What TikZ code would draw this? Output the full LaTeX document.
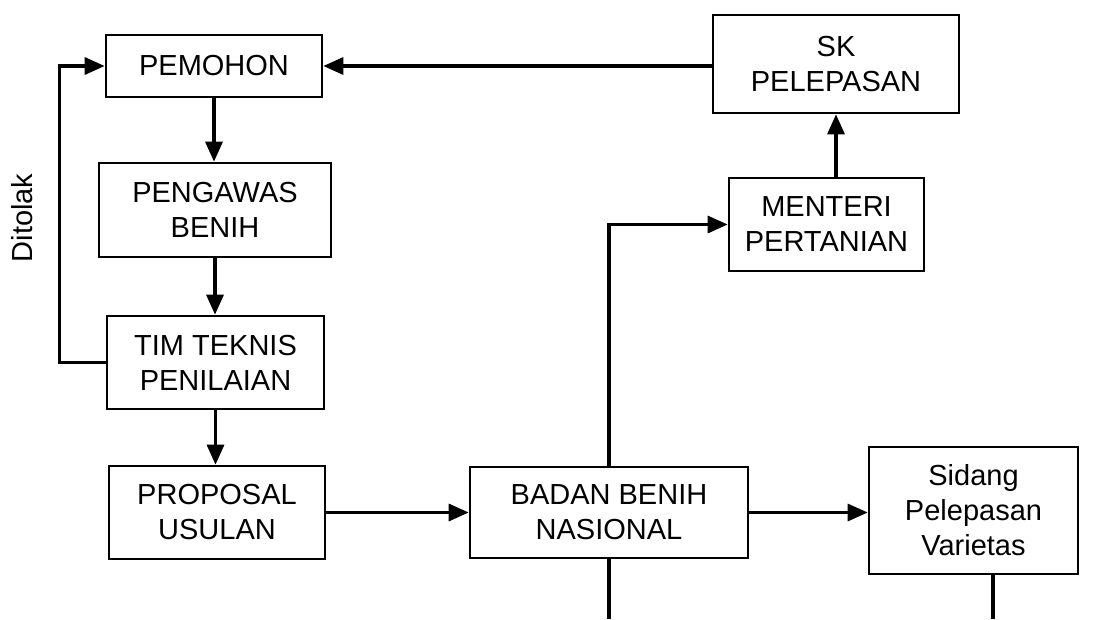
\documentclass[tikz,border=0pt]{standalone}
\usepackage{fontspec}
\setmainfont{Liberation Sans}
\usetikzlibrary{arrows.meta}

\begin{document}
\begin{tikzpicture}[x=1pt, y=-1pt, every node/.style={font=\fontsize{29}{35}\selectfont},
	box/.style={draw, line width=2.6pt, align=center, inner sep=0pt},
	flow/.style={line width=3.2pt, -{Triangle[length=20pt,width=17pt]}}]
	\useasboundingbox (0,0) rectangle (1116,619);
	\node[box, minimum width=216pt, minimum height=62pt] (pemohon) at (214,66) {PEMOHON};
	\node[box, minimum width=232pt, minimum height=94pt] (pengawas) at (215,210) {PENGAWAS\\BENIH};
	\node[box, minimum width=217pt, minimum height=93pt] (timteknis) at (215.5,362.5) {TIM TEKNIS\\PENILAIAN};
	\node[box, minimum width=216pt, minimum height=93pt] (proposal) at (217,512.5) {PROPOSAL\\USULAN};
	\node[box, minimum width=278pt, minimum height=91pt] (badan) at (609,512.5) {BADAN BENIH\\NASIONAL};
	\node[box, minimum width=209pt, minimum height=127pt] (sidang) at (973.5,510.5) {Sidang\\Pelepasan\\Varietas};
	\node[box, minimum width=195pt, minimum height=93pt] (menteri) at (826.5,224.5) {MENTERI\\PERTANIAN};
	\node[box, minimum width=246pt, minimum height=98pt] (sk) at (836,64) {SK\\PELEPASAN};
	\node[rotate=90] (ditolak) at (22,218) {Ditolak};
	\coordinate (badanend) at (609,619);
	\coordinate (sidangend) at (993,619);
	\foreach \a/\b in {pemohon/pengawas, pengawas/timteknis, timteknis/proposal} {
		\draw[flow] (\a.south) -- (\a.south |- \b.north);
	}
	\draw[flow] (proposal.east) -- (proposal.east -| badan.west);
	\draw[flow] (badan.east) -- (badan.east -| sidang.west);
	\draw[flow] (badan.north) |- (menteri.west);
	\draw[flow] (menteri.north -| sk.south) -- (sk.south);
	\draw[flow] (sk.west |- pemohon.east) -- (pemohon.east);
	\draw[flow] (timteknis.west) -- ++(-46,0) |- (pemohon.west);
	\draw[line width=3.2pt] (badan.south) -- (badanend);
	\draw[line width=3.2pt] (sidangend |- sidang.south) -- (sidangend);
\end{tikzpicture}
\end{document}
